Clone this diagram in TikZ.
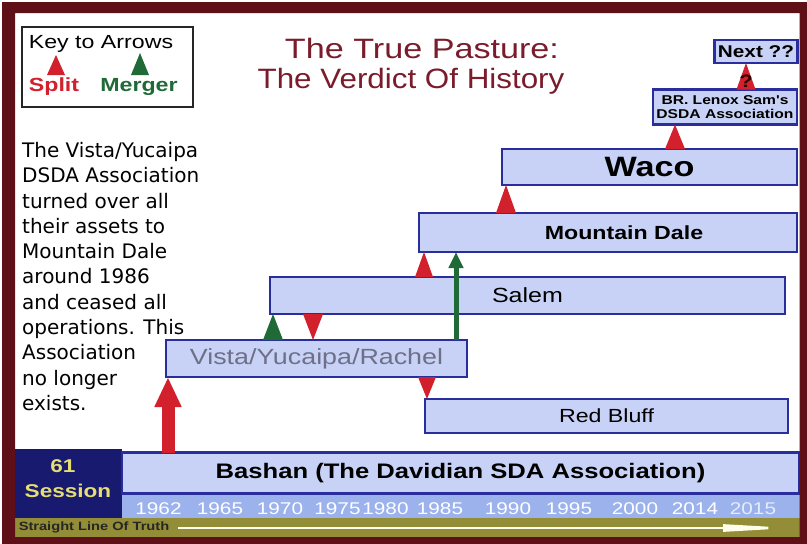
\documentclass[tikz,border=0pt]{standalone}
\usepackage{fontspec}
\usetikzlibrary{arrows.meta,calc}
\newfontfamily\arialw[FakeStretch=1.22]{Liberation Sans}
\newfontfamily\arialt[FakeStretch=1.12]{Liberation Sans}
\newfontfamily\verd{DejaVu Sans}
\newcommand\setfs[1]{\fontsize{#1}{#1}\selectfont}
\definecolor{frame}{HTML}{5E1016}
\definecolor{boxfill}{HTML}{C8D2F6}
\definecolor{boxline}{HTML}{2A2E9C}
\definecolor{splitred}{HTML}{D2202C}
\definecolor{mergegreen}{HTML}{1F6A36}
\definecolor{titlered}{HTML}{7A1C2C}
\definecolor{navy}{HTML}{171A6E}
\definecolor{yearblue}{HTML}{9CB2EC}
\definecolor{olive}{HTML}{928D36}
\definecolor{gold}{HTML}{E6DE6E}
\definecolor{vistagray}{HTML}{6E7088}
% triangle: colour, x, half width, base anchor, apex anchor
\newcommand\tripath[5]{\fill[#1] ({#2-#3},0 |- #4) -- (#2,0 |- #5) -- ({#2+#3},0 |- #4) -- cycle;}
\begin{document}
\begin{tikzpicture}[x=1pt,y=-1pt,
  band/.style={draw=boxline, line width=2.4pt, fill=boxfill, inner sep=0pt, outer sep=0pt},
  year/.style={font=\arialw\setfs{17}, text=white, inner sep=0pt},
  bigarrow/.style={draw=splitred, line width=13pt, -{Triangle[length=30pt,width=25pt]}},
  mergearrow/.style={draw=mergegreen, line width=5pt, -{Triangle[length=16pt,width=14pt]}}]
\useasboundingbox (0,0) rectangle (807,544);
\fill[white] (0,0) rectangle (807,544);

% key
\node[draw=black!85, line width=1.2pt, minimum width=171pt, minimum height=80pt, inner sep=0pt] (key) at (107.5,67) {};
\node[font=\arialw\setfs{19}, inner sep=0pt] (keytitle) at (101,44) {Key to Arrows};
\fill[splitred] (47,75) -- (56,55) -- (65,75) -- cycle;
\fill[mergegreen] (131,75) -- (140,53) -- (149,75) -- cycle;
\node[font=\arialw\bfseries\setfs{19}, text=splitred, inner sep=0pt] (split) at (54,87) {Split};
\node[font=\arialw\bfseries\setfs{19}, text=mergegreen, inner sep=0pt] (merger) at (139,87) {Merger};

% title
\node[anchor=base, font=\arialw\setfs{28}, text=titlered, inner sep=0pt] (title1) at (422,58) {The True Pasture:};
\node[anchor=base, font=\arialt\setfs{28}, text=titlered, inner sep=0pt] (title2) at (411,88) {The Verdict Of History};

% left note
\node[anchor=north west, font=\verd\fontsize{20}{25.3}\selectfont, align=left, inner sep=0pt] (note) at (22,142)
{The Vista/Yucaipa\\DSDA Association\\turned over all\\their assets to\\Mountain Dale\\around 1986\\and ceased all\\operations. This\\Association\\no longer\\exists.};

% boxes
\node[band, minimum width=83pt, minimum height=23pt, font=\arialw\bfseries\setfs{17}] (next) at (756,51.5) {Next ??};
\node[band, minimum width=144pt, minimum height=35pt, align=center, font=\arialw\bfseries\fontsize{12.8}{14.5}\selectfont] (lenox) at (725,107) {BR. Lenox Sam's\\DSDA Association};
\node[band, minimum width=295pt, minimum height=36pt, font=\arialw\bfseries\setfs{28}] (waco) at (649.5,167) {Waco};
\node[band, minimum width=378pt, minimum height=39pt] (mdale) at (608,232.5) {};
\node[font=\arialw\bfseries\setfs{19}, inner sep=0pt] (mdlabel) at (624,232.5) {Mountain Dale};
\node[band, minimum width=515pt, minimum height=37pt, font=\arialw\setfs{20.5}] (salem) at (527.5,295.5) {Salem};
\node[band, minimum width=301pt, minimum height=37pt, font=\arialw\setfs{22}, text=vistagray] (vista) at (316.5,358.5) {Vista/Yucaipa/Rachel};
\node[band, minimum width=363pt, minimum height=34pt, font=\arialw\setfs{19}] (redbluff) at (606.5,416) {Red Bluff};

% bottom bands
\fill[navy] (15,449) rectangle (122,518);
\fill[yearblue] (122,494) rectangle (800,518);
\node[band, minimum width=677pt, minimum height=41pt, font=\arialw\bfseries\setfs{21}] (bashan) at (460.5,473) {Bashan (The Davidian SDA Association)};
\node[font=\arialw\bfseries\setfs{18.5}, text=gold, inner sep=0pt] (sixtyone) at (63,466) {61};
\node[font=\arialw\bfseries\setfs{18.5}, text=gold, inner sep=0pt] (session) at (68,491) {Session};
\foreach \yr/\xx in {1962/158.5,1965/220,1970/280,1975/337.5,1980/385.5,1985/440,1990/508,1995/569,2000/635,2014/695}
  \node[year] (y\yr) at (\xx,509) {\yr};
\node[year, text=white!75!yearblue] (y2015) at (753,509) {2015};
\fill[olive] (15,518) rectangle (800,537);
\node[font=\arialw\bfseries\setfs{12}, text=black!85, inner sep=0pt] (truth) at (94,527.5) {Straight Line Of Truth};
\coordinate (truthstart) at (178,528);
\coordinate (truthend) at (795,528);
\draw[white!92!yellow, line width=2.6pt, -{Triangle[length=72pt,width=7pt]}] (truthstart) -- (truthend);

% connectors
\draw[bigarrow] (168,0 |- bashan.north) -- (168,0 |- vista.south);
\draw[mergearrow] (456,0 |- vista.north) -- (456,0 |- mdale.south);
\tripath{splitred}{675}{10}{waco.north}{lenox.south}
\tripath{splitred}{746}{9.5}{lenox.north}{next.south}
\node[font=\arialw\bfseries\setfs{18}, text=black!80!red, inner sep=0pt] (qmark) at (746,81) {?};
\tripath{splitred}{506}{10}{mdale.north}{waco.south}
\tripath{splitred}{424}{9}{salem.north}{mdale.south}
\tripath{mergegreen}{273}{10}{vista.north}{salem.south}
\tripath{splitred}{313}{10}{salem.south}{vista.north}
\tripath{splitred}{427}{9}{vista.south}{redbluff.north}

% frame
\fill[frame, even odd rule] (2,2) rectangle (807,544) (15,13) rectangle (799.5,537);
\end{tikzpicture}
\end{document}
